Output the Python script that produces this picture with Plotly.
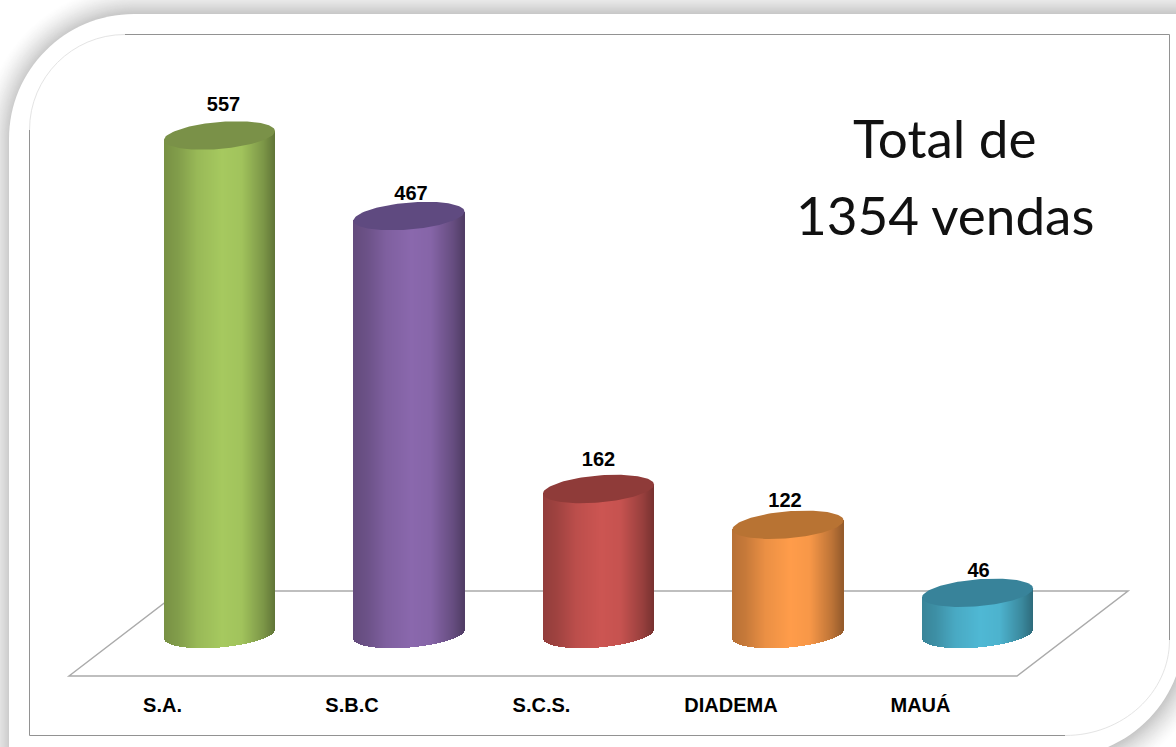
import numpy as np
import plotly.graph_objects as go

cities = ["S.A.", "S.B.C", "S.C.S.", "DIADEMA", "MAUÁ"]
sales = [557, 467, 162, 122, 46]
body_colors = ["#a6c95f", "#8a68ad", "#cc5552", "#ff9c4a", "#4fb8d4"]
cap_colors = ["#7a9148", "#5f4a80", "#8f3b39", "#b87333", "#38839a"]
label_dx_px = [4, 2, 0, -3, 1]
label_dy_px = [29, 21, 28, 23, 21]
title_lines = ["Total de", "1354 vendas"]

W, H = 1176, 747
PX_PER_CAT = 189.5
PX_PER_VAL = 0.895
CX0 = 219.5
ZERO_Y = 634
AXIS_L, AXIS_R, AXIS_Y = 69, 1017, 676
A_PX, B_PX, TILT_PX = 55.5, 13.5, 4.5
a = A_PX / PX_PER_CAT
b = B_PX / PX_PER_VAL
tilt = TILT_PX / PX_PER_VAL
STOPS_U = [-1, -0.75, -0.4, 0.05, 0.4, 0.8, 1]
STOPS_F = [0.72, 0.78, 0.92, 1.0, 0.97, 0.74, 0.58]


def px(x):
    return x / W


def py(y):
    return 1 - y / H


def shade(hex_color, f):
    r, g, bl = (int(hex_color[i:i + 2], 16) for i in (1, 3, 5))
    return f"rgb({r * f:.0f},{g * f:.0f},{bl * f:.0f})"


def rounded(l, t, r, bt, rtl, rbr):
    k = 0.448
    pts = [
        f"M{px(l)},{py(t + rtl)}",
        f"C{px(l)},{py(t + rtl * k)} {px(l + rtl * k)},{py(t)} {px(l + rtl)},{py(t)}",
        f"L{px(r)},{py(t)}",
        f"L{px(r)},{py(bt - rbr)}",
        f"C{px(r)},{py(bt - rbr * k)} {px(r - rbr * k)},{py(bt)} {px(r - rbr)},{py(bt)}",
        f"L{px(l)},{py(bt)}",
        "Z",
    ]
    return " ".join(pts)


shapes = []
# soft shadow of the white panel
N = 30
for d in range(N, 0, -1):
    g = 255 - 58 * (1 - d / N) ** 1.5
    col = f"rgb({g:.0f},{g:.0f},{g:.0f})"
    shapes.append(dict(type="path", xref="paper", yref="paper", layer="below",
                       path=rounded(11 - d, 14 - d, 1184 + d, 757 + d, 125 + d, 125 + d),
                       fillcolor=col, line=dict(width=0)))
shapes.append(dict(type="path", xref="paper", yref="paper", layer="below",
                   path=rounded(9, 14, 1184, 757, 125, 125),
                   fillcolor="#ffffff", line=dict(width=0)))


def hline(path, color, width=1):
    shapes.append(dict(type="path", xref="paper", yref="paper", layer="below",
                       path=path, line=dict(color=color, width=width)))


# inner frame: solid edges and faint rounded corners
hline(f"M{px(125)},{py(34.5)} L{px(1169.5)},{py(34.5)} L{px(1169.5)},{py(640)}", "#929292")
hline(f"M{px(29.5)},{py(130)} L{px(29.5)},{py(735.5)} L{px(1065)},{py(735.5)}", "#929292")
k = 0.448
hline(f"M{px(29.5)},{py(130)} C{px(29.5)},{py(34.5 + 95.5 * k)} {px(29.5 + 95.5 * k)},{py(34.5)} {px(125)},{py(34.5)}", "#e4e4e4")
hline(f"M{px(1169.5)},{py(640)} C{px(1169.5)},{py(735.5 - 95.5 * k)} {px(1169.5 - 104.5 * k)},{py(735.5)} {px(1065)},{py(735.5)}", "#e4e4e4")

# floor outline
FLOOR_BACK_Y = 591
hline(f"M{px(AXIS_L)},{py(AXIS_Y)} L{px(180)},{py(FLOOR_BACK_Y)} L{px(1128)},{py(FLOOR_BACK_Y)} L{px(AXIS_R)},{py(AXIS_Y)} Z",
      "#ababab", 1.5)

fig = go.Figure()
us = np.arange(-A_PX + 0.5, A_PX, 1.0) / A_PX

for i, (name, v, col, cap) in enumerate(zip(cities, sales, body_colors, cap_colors)):
    bot = tilt * us - b * np.sqrt(1 - us ** 2)
    top = v + tilt * us
    fig.add_trace(go.Bar(
        x=i + us * a, y=top - bot, base=bot, width=1 / PX_PER_CAT, name=name,
        marker=dict(color=[shade(col, f) for f in np.interp(us, STOPS_U, STOPS_F)],
                    line=dict(width=0)),
        hoverinfo="skip", showlegend=False,
    ))
    t = np.linspace(0, 2 * np.pi, 121)
    fig.add_trace(go.Scatter(
        x=i + a * np.cos(t), y=v + tilt * np.cos(t) + b * np.sin(t),
        mode="lines", fill="toself", fillcolor=cap, line=dict(width=0, color=cap),
        hoverinfo="skip", showlegend=False,
    ))

fig.add_trace(go.Scatter(
    x=[i + dx / PX_PER_CAT for i, dx in enumerate(label_dx_px)],
    y=[v + dy / PX_PER_VAL for v, dy in zip(sales, label_dy_px)],
    text=[str(v) for v in sales], mode="text", textposition="middle center",
    textfont=dict(family="Liberation Sans", size=20, color="#000000", weight=700),
    hoverinfo="skip", showlegend=False, cliponaxis=False,
))

# x axis spans the whole page, with its baseline at the floor's front edge
x_lo = -CX0 / PX_PER_CAT
x_hi = (W - CX0) / PX_PER_CAT
y_lo = -(AXIS_Y - ZERO_Y) / PX_PER_VAL
y_hi = ZERO_Y / PX_PER_VAL

fig.update_layout(
    width=W, height=H, margin=dict(l=0, r=0, t=0, b=0),
    paper_bgcolor="#ffffff", plot_bgcolor="rgba(0,0,0,0)",
    barmode="overlay", bargap=0, shapes=shapes,
    xaxis=dict(domain=[0, 1], range=[x_lo, x_hi], showgrid=False, zeroline=False,
               showline=False,
               tickmode="array", tickvals=[i - 57 / PX_PER_CAT for i in range(len(cities))],
               ticktext=cities, ticks="outside", ticklen=11, tickcolor="rgba(0,0,0,0)",
               tickangle=0,
               tickfont=dict(family="Liberation Sans", size=20, color="#000000", weight=700)),
    yaxis=dict(domain=[py(AXIS_Y), 1], range=[y_lo, y_hi], visible=False),
    annotations=[
        dict(x=px(945), y=py(yy), xref="paper", yref="paper", text=line, showarrow=False,
             xanchor="center", yanchor="middle",
             font=dict(family="Lato", size=53, color="#111111"))
        for line, yy in zip(title_lines, [138, 214])
    ],
)

fig.write_html("out.html", post_script="document.body.style.margin='0';",
               config=dict(displayModeBar=False))
